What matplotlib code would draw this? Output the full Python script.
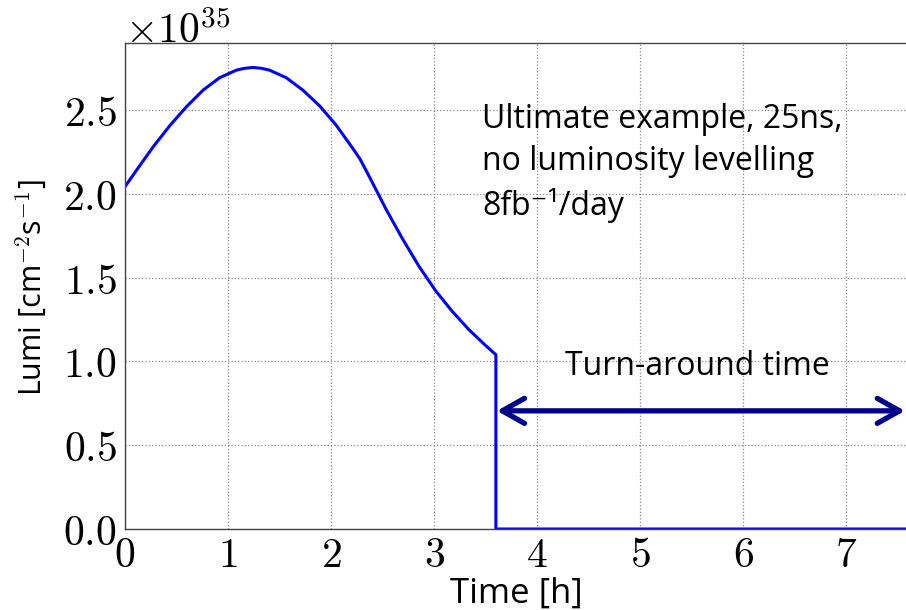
import matplotlib
matplotlib.use('Agg')
import matplotlib.pyplot as plt
import numpy as np

plt.rcParams['mathtext.fontset'] = 'cm'
plt.rcParams['font.family'] = ['Open Sans', 'DejaVu Sans']

# luminosity in units of 1e35 cm^-2 s^-1
time_h = [0.0, 0.113, 0.274, 0.435, 0.597, 0.758, 0.919, 1.081, 1.161, 1.242,
          1.323, 1.403, 1.565, 1.726, 1.887, 2.048, 2.210, 2.281, 2.371, 2.532,
          2.694, 2.855, 3.016, 3.177, 3.339, 3.500, 3.600, 3.600, 7.61]
lumi = [2.043, 2.142, 2.281, 2.407, 2.520, 2.619, 2.693, 2.738, 2.749, 2.754,
        2.749, 2.738, 2.693, 2.619, 2.526, 2.411, 2.272, 2.208, 2.103, 1.910,
        1.731, 1.566, 1.421, 1.298, 1.189, 1.095, 1.040, 0.0, 0.0]

xticks = [0, 1, 2, 3, 4, 5, 6, 7]
yticks = [0.0, 0.5, 1.0, 1.5, 2.0, 2.5]

turnaround_start = 3.61
turnaround_end = 7.57

fig = plt.figure(figsize=(9.06, 6.10), dpi=100)
ax = fig.add_axes([125 / 906, 81 / 610, 784 / 906, 486 / 610])

ax.plot(np.array(time_h), np.array(lumi), color='#0000ff', lw=2.2)

ax.set_xlim(0, 7.61)
ax.set_ylim(0, 2.9)
ax.set_xticks(xticks)
ax.set_xticklabels(['$%d$' % t for t in xticks], fontsize=30)
ax.set_yticks(yticks)
ax.set_yticklabels(['$%.1f$' % t for t in yticks], fontsize=30)
ax.tick_params(length=0, pad=6)
ax.tick_params(axis='x', pad=4)
ax.grid(True, linestyle=':', color='#888888', lw=0.9)
for s in ax.spines.values():
    s.set_color('#444444')
    s.set_linewidth(1.0)
ax.spines['right'].set_visible(False)

ax.text(0, 1.0, r'$\times10^{35}$', transform=ax.transAxes, fontsize=30,
        ha='left', va='baseline')

ax.set_xlabel('Time [h]', fontsize=25)
ax.xaxis.label.set_va('baseline')
ax.xaxis.set_label_coords(0.4987, -0.1505)
ax.set_ylabel('Lumi [cm$^{-2}$s$^{-1}$]', fontsize=22)
ax.yaxis.label.set_va('baseline')
ax.yaxis.set_label_coords(-0.106, 0.496)

ax.text(3.466, 2.393, 'Ultimate example, 25ns,', fontsize=23, va='baseline')
ax.text(3.466, 2.142, 'no luminosity levelling', fontsize=23, va='baseline')
ax.text(3.466, 1.874, '8fb\u207b\u00b9/day', fontsize=23, va='baseline')

ax.text(5.56, 0.919, 'Turn-around time', fontsize=23, ha='center', va='baseline')
ax.annotate('', xy=(turnaround_end, 0.705), xytext=(turnaround_start, 0.705),
            arrowprops=dict(arrowstyle='<->,head_length=0.8,head_width=0.45',
                            color='#00008c', lw=3.8, mutation_scale=20,
                            shrinkA=0, shrinkB=0))

fig.savefig('out.png', dpi=100)
